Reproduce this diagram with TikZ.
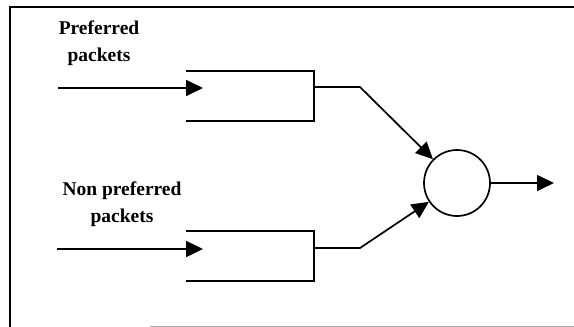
\documentclass[tikz,border=0pt]{standalone}
\usepackage{fontspec}
\setmainfont{Liberation Serif}
\usetikzlibrary{arrows.meta}
\begin{document}
\begin{tikzpicture}[x=1pt,y=-1pt,
  wire/.style={line width=1.7pt},
  flow/.style={wire,-{Triangle[length=17pt,width=16pt]}},
  queuebox/.style={rectangle,minimum width=128pt,minimum height=49pt,inner sep=0pt},
  label/.style={align=center,font=\bfseries\fontsize{19.5}{27}\selectfont,inner sep=0pt}]
\useasboundingbox (0,0) rectangle (574,327);

% outer frame
\draw[line width=1.2pt] (10,327) -- (10,7) -- (574,7);
\draw[line width=0.8pt,black!35] (150,326.5) -- (574,326.5);

% labels
\node[label] (ltop) at (99,43) {Preferred\\packets};
\node[label] (lbot) at (122,204) {Non preferred\\packets};

% queues (open on the left)
\node[queuebox] (q1) at (250,96) {};
\node[queuebox] (q2) at (250,256) {};
\draw[wire] (q1.north west) -- (q1.north east) -- (q1.south east) -- (q1.south west);
\draw[wire] (q2.north west) -- (q2.north east) -- (q2.south east) -- (q2.south west);

% server
\node[circle,draw,line width=1.7pt,minimum size=66pt,inner sep=0pt] (srv) at (457,183) {};

% arrivals
\coordinate (in1) at (58,88);
\coordinate (in1e) at (203,88);
\coordinate (in2) at (57,249);
\coordinate (in2e) at (203,249);
\draw[flow] (in1) -- (in1e);
\draw[flow] (in2) -- (in2e);

% queue outputs to the server
\coordinate (o1) at (q1.east |- 0,87);
\coordinate (k1) at (360,87);
\coordinate (o2) at (q2.east |- 0,248);
\coordinate (k2) at (360,248);
\draw[flow] (o1) -- (k1) -- (srv);
\draw[flow] (o2) -- (k2) -- (srv);

% departures
\coordinate (out) at (554,183);
\draw[flow] (srv) -- (out);
\end{tikzpicture}
\end{document}
